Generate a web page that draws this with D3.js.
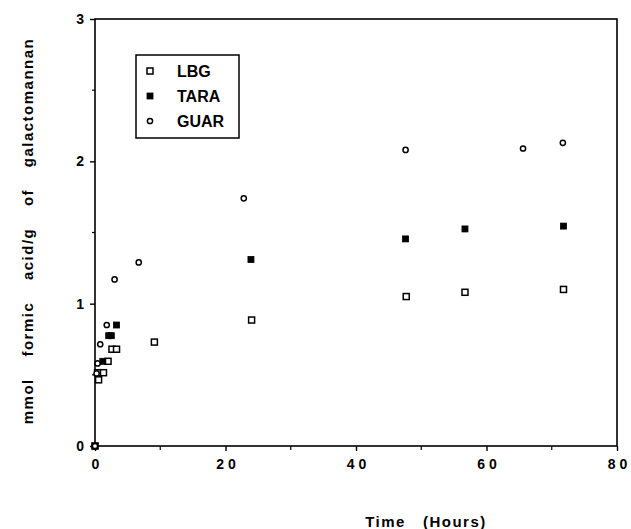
<!DOCTYPE html>
<html>
<head>
<meta charset="utf-8">
<script src="https://cdn.jsdelivr.net/npm/d3@7"></script>
<style>
  body { margin: 0; background: #fff; }
  svg { display: block; font-family: "Liberation Sans", Arial, sans-serif; font-weight: bold; }
</style>
</head>
<body>
<div id="chart"></div>
<script>
// data (time in hours, mmol formic acid / g)
const lbgTime = [0, 0.55, 0.4, 1.3, 2.0, 2.6, 3.3, 9.1, 24.0, 47.7, 56.7, 71.8];
const lbgValue = [0, 0.465, 0.515, 0.515, 0.595, 0.68, 0.68, 0.73, 0.885, 1.05, 1.08, 1.10];

const taraTime = [0, 1.2, 2.1, 2.5, 3.3, 23.9, 47.6, 56.7, 71.8];
const taraValue = [0, 0.595, 0.775, 0.775, 0.85, 1.31, 1.455, 1.525, 1.545];

const guarTime = [0, 0.25, 0.4, 0.8, 1.8, 3.0, 6.7, 22.8, 47.6, 65.6, 71.7];
const guarValue = [0, 0.51, 0.58, 0.715, 0.85, 1.17, 1.29, 1.74, 2.08, 2.09, 2.13];

const xTicks = [0, 20, 40, 60, 80];
const xMinor = [10, 30, 50, 70];
const yTicks = [0, 1, 2, 3];
const yMinor = [0.5, 1.5, 2.5];

const seriesNames = ["LBG", "TARA", "GUAR"];

const width = 631;
const height = 529;
const margin = { top: 19, right: 14, bottom: 83, left: 95 };

const svg = d3
  .select("#chart")
  .append("svg")
  .attr("width", width)
  .attr("height", height);

const x = d3.scaleLinear().domain([0, 80]).range([margin.left, width - margin.right]);
const y = d3.scaleLinear().domain([0, 3]).range([height - margin.bottom, margin.top]);

// frame
svg
  .append("rect")
  .attr("x", x(0))
  .attr("y", y(3))
  .attr("width", x(80) - x(0))
  .attr("height", y(0) - y(3))
  .attr("fill", "none")
  .attr("stroke", "#000")
  .attr("stroke-width", 1.6);

// x axis, ticks point outward; digits spaced apart like the original typesetting
const xAxis = svg
  .append("g")
  .attr("transform", `translate(0, ${y(0)})`)
  .call(
    d3
      .axisBottom(x)
      .tickValues(xTicks)
      .tickSize(5)
      .tickPadding(8)
      .tickFormat((d) => String(d).split("").join(" "))
  );
xAxis.select(".domain").remove();
xAxis.selectAll("line").attr("stroke-width", 1.4);
xAxis
  .selectAll("text")
  .style("font-size", "14px")
  .style("font-weight", "bold")
  .style("white-space", "pre")
  .attr("fill", "#000");

svg
  .append("g")
  .selectAll("line")
  .data(xMinor)
  .enter()
  .append("line")
  .attr("x1", (d) => x(d))
  .attr("x2", (d) => x(d))
  .attr("y1", y(0))
  .attr("y2", y(0) + 4)
  .attr("stroke", "#000")
  .attr("stroke-width", 1.2);

// y axis
const yAxis = svg
  .append("g")
  .attr("transform", `translate(${x(0)}, 0)`)
  .call(d3.axisLeft(y).tickValues(yTicks).tickSize(5).tickPadding(6).tickFormat(d3.format("d")));
yAxis.select(".domain").remove();
yAxis.selectAll("line").attr("stroke-width", 1.4);
yAxis.selectAll("text").style("font-size", "14px").style("font-weight", "bold").attr("fill", "#000");

svg
  .append("g")
  .selectAll("line")
  .data(yMinor)
  .enter()
  .append("line")
  .attr("x1", x(0) - 3)
  .attr("x2", x(0))
  .attr("y1", (d) => y(d))
  .attr("y2", (d) => y(d))
  .attr("stroke", "#000")
  .attr("stroke-width", 1.2);

// axis titles
svg
  .append("text")
  .attr("x", 426)
  .attr("y", 527)
  .attr("text-anchor", "middle")
  .style("font-size", "15px")
  .style("letter-spacing", "1.5px")
  .style("white-space", "pre")
  .text("Time   (Hours)");

svg
  .append("text")
  .attr("transform", "rotate(-90)")
  .attr("x", -231)
  .attr("y", 33)
  .attr("text-anchor", "middle")
  .style("font-size", "15px")
  .style("letter-spacing", "1.5px")
  .style("word-spacing", "16px")
  .text("mmol formic acid/g of galactomannan");

// markers
function drawSquares(times, values, filled) {
  svg
    .append("g")
    .selectAll("rect")
    .data(times.map((t, i) => [t, values[i]]))
    .enter()
    .append("rect")
    .attr("x", (d) => x(d[0]) - 3)
    .attr("y", (d) => y(d[1]) - 3)
    .attr("width", 6)
    .attr("height", 6)
    .attr("fill", filled ? "#000" : "#fff")
    .attr("stroke", "#000")
    .attr("stroke-width", filled ? 0.8 : 1.5);
}

drawSquares(lbgTime, lbgValue, false);
drawSquares(taraTime, taraValue, true);

svg
  .append("g")
  .selectAll("circle")
  .data(guarTime.map((t, i) => [t, guarValue[i]]))
  .enter()
  .append("circle")
  .attr("cx", (d) => x(d[0]))
  .attr("cy", (d) => y(d[1]))
  .attr("r", 2.6)
  .attr("fill", "#fff")
  .attr("stroke", "#000")
  .attr("stroke-width", 1.5);

// legend
const legend = svg.append("g").attr("transform", "translate(136, 55)");

legend
  .append("rect")
  .attr("width", 103)
  .attr("height", 83)
  .attr("fill", "#fff")
  .attr("stroke", "#000")
  .attr("stroke-width", 1.5);

seriesNames.forEach((name, i) => {
  const cy = 16 + i * 25;
  if (name === "GUAR") {
    legend
      .append("circle")
      .attr("cx", 14)
      .attr("cy", cy)
      .attr("r", 2.6)
      .attr("fill", "#fff")
      .attr("stroke", "#000")
      .attr("stroke-width", 1.5);
  } else {
    legend
      .append("rect")
      .attr("x", 11)
      .attr("y", cy - 3)
      .attr("width", 6)
      .attr("height", 6)
      .attr("fill", name === "TARA" ? "#000" : "#fff")
      .attr("stroke", "#000")
      .attr("stroke-width", name === "TARA" ? 0.8 : 1.5);
  }
  legend
    .append("text")
    .attr("x", 41)
    .attr("y", cy + 6)
    .style("font-size", "16px")
    .text(name);
});
</script>
</body>
</html>
